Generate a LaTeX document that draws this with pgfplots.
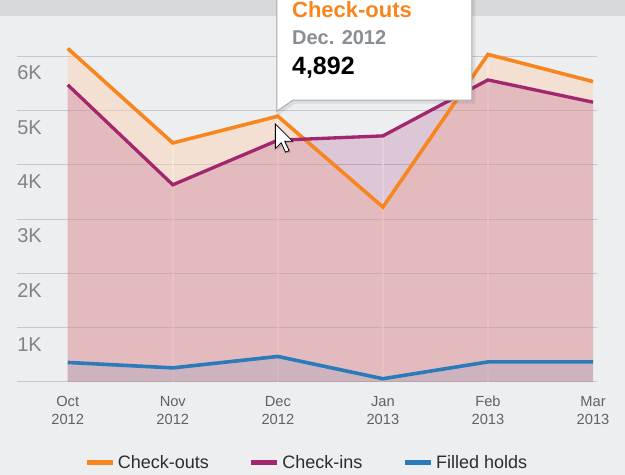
\documentclass[border=0pt]{standalone}
\usepackage{pgfplots}
\pgfplotsset{compat=1.18}
\usepackage{fontspec}
\setmainfont{Liberation Sans}
\definecolor{panelbg}{RGB}{236,238,240}
\definecolor{headerbg}{RGB}{215,217,219}
\definecolor{gridc}{RGB}{198,200,203}
\definecolor{ylab}{RGB}{128,132,136}
\definecolor{xlab}{RGB}{95,99,103}
\definecolor{legtext}{RGB}{45,45,45}
\definecolor{co}{RGB}{247,134,31}
\definecolor{cofill}{RGB}{254,205,168}
\definecolor{ci}{RGB}{163,39,111}
\definecolor{fh}{RGB}{43,123,186}
\definecolor{tipborder}{RGB}{170,172,175}
\definecolor{tipgray}{RGB}{138,142,146}
\begin{document}
\begin{tikzpicture}[x=0.75pt,y=0.75pt]
\fill[panelbg] (0,0) rectangle (625,475);
\fill[headerbg] (0,459) rectangle (625,475);
\begin{axis}[
  at={(12.75pt,342.75pt)}, anchor=north west,
  scale only axis, width=435pt, height=273pt,
  xmin=-0.483, xmax=5.038, ymin=0, ymax=6700,
  axis line style={draw=none},
  major tick length=0pt,
  ytick={0,1000,2000,3000,4000,5000,6000},
  yticklabels={,1K,2K,3K,4K,5K,6K},
  ymajorgrids,
  grid style={color=gridc, line width=0.75pt},
  xtick={0,1,2,3,4,5},
  xticklabels={Oct\\2012,Nov\\2012,Dec\\2012,Jan\\2013,Feb\\2013,Mar\\2013},
  xticklabel style={align=center, font=\fontsize{11}{13.5}\selectfont, text=xlab, inner sep=0pt, anchor=north, yshift=-10.5pt},
  yticklabel style={anchor=west, inner sep=0pt, yshift=-12.75pt, font=\fontsize{15}{16}\selectfont, text=ylab},
  legend style={at={(0.5,-0.2225)}, anchor=center, legend columns=3, draw=none, fill=none,
    font=\fontsize{13.5}{16}\selectfont, text=legtext,
    /tikz/every even column/.append style={column sep=28pt}},
  legend cell align=left,
  legend image code/.code={\draw[#1, line width=3.75pt] (0pt,0pt) -- (19.5pt,0pt);},
]
% light vertical lines through the areas (top of the areas at each month)
\addplot[ycomb, draw=white, opacity=0.7, line width=1.2pt, mark=none, forget plot] coordinates {
  (1,4400) (2,4892) (3,4530) (4,6030)};
% areas
\addplot[draw=none, fill=cofill, fill opacity=0.4, forget plot] coordinates {
  (0,6140) (1,4400) (2,4892) (3,3220) (4,6030) (5,5530)} \closedcycle;
\addplot[draw=none, fill=ci, fill opacity=0.2, forget plot] coordinates {
  (0,5470) (1,3630) (2,4450) (3,4530) (4,5560) (5,5150)} \closedcycle;
\addplot[draw=none, fill=fh, fill opacity=0.12, forget plot] coordinates {
  (0,360) (1,260) (2,470) (3,60) (4,370) (5,370)} \closedcycle;
% lines
\addplot[co, line width=2.7pt, mark=none, line join=miter] coordinates {
  (0,6140) (1,4400) (2,4892) (3,3220) (4,6030) (5,5530)};
\addlegendentry{Check-outs}
\addplot[ci, line width=2.5pt, mark=none, line join=miter] coordinates {
  (0,5470) (1,3630) (2,4450) (3,4530) (4,5560) (5,5150)};
\addlegendentry{Check-ins}
\addplot[fh, line width=2.7pt, mark=none, line join=miter] coordinates {
  (0,360) (1,260) (2,470) (3,60) (4,370) (5,370)};
\addlegendentry{Filled holds}
\coordinate (P) at (axis cs:2,4892);
\end{axis}
\begin{scope}[shift={(P)}]
  % tooltip shadow
  \draw[black, opacity=0.08, line width=3pt] (0.5,130) -- (0.5,3.5) -- (16.5,14.5) -- (195.5,14.5) -- (195.5,130);
  % tooltip box
  \draw[fill=white, draw=tipborder, line width=0.75pt] (-1,130) -- (-1,5) -- (15,16) -- (194,16) -- (194,130);
  \node[anchor=base west, inner sep=0pt, text=co, font=\bfseries\fontsize{16.5}{18}\selectfont] at (14,99) {Check-outs};
  \node[anchor=base west, inner sep=0pt, text=tipgray, font=\bfseries\fontsize{15}{17}\selectfont] at (14,72) {Dec. 2012};
  \node[anchor=base west, inner sep=0pt, text=black, font=\bfseries\fontsize{18.75}{20}\selectfont] at (14,42) {4,892};
  % mouse cursor
  \begin{scope}[shift={(-2.5,-7.7)}, scale=1.45]
    \fill[black, opacity=0.15] (1.2,-1) -- (1.2,-18) -- (5.2,-14) -- (8.2,-20.5) -- (10.7,-19.5) -- (7.7,-13) -- (13.2,-13) -- cycle;
    \draw[fill=white, draw=black, line width=0.6pt, line join=miter] (0,0) -- (0,-17) -- (4,-13) -- (7,-19.5) -- (9.5,-18.5) -- (6.5,-12) -- (12,-12) -- cycle;
  \end{scope}
\end{scope}
\pgfresetboundingbox
\path[use as bounding box] (0,0) rectangle (625,475);
\end{tikzpicture}
\end{document}
